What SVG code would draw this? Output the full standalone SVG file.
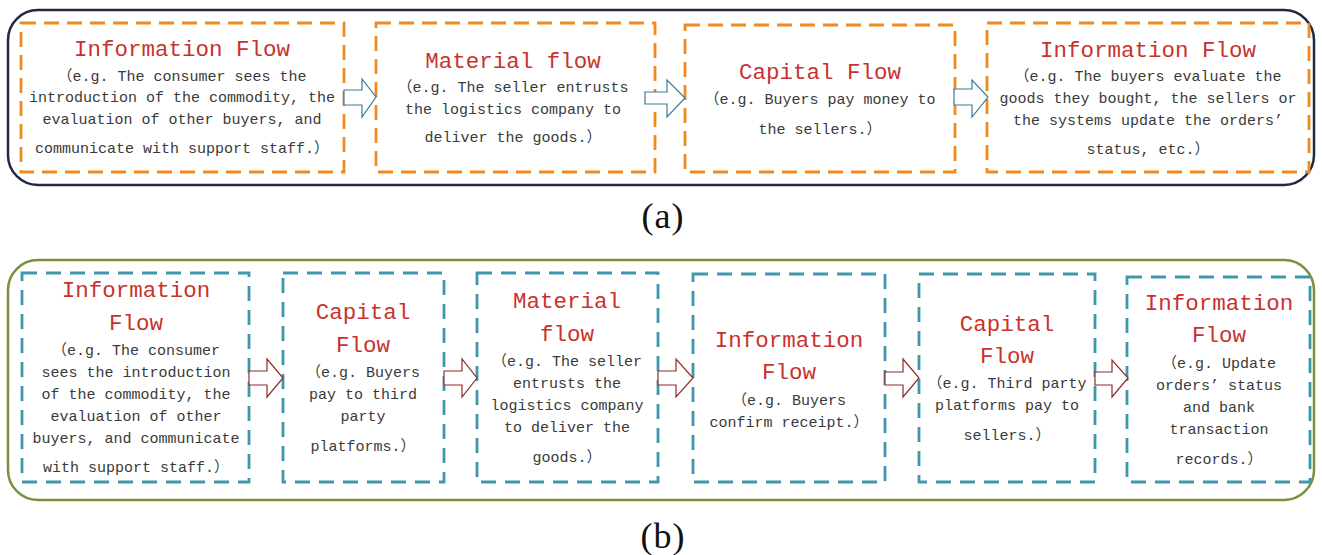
<svg xmlns="http://www.w3.org/2000/svg" width="1322" height="555" viewBox="0 0 1322 555">
  <defs>
    <style>
      .panel-a { fill: none; stroke: #1f2a40; stroke-width: 2.5; }
      .panel-b { fill: none; stroke: #76923c; stroke-width: 2.5; }
      .box-a { fill: none; stroke: #f28a1e; stroke-width: 2.8; stroke-dasharray: 15 8; }
      .box-b { fill: none; stroke: #3f97ab; stroke-width: 2.8; stroke-dasharray: 15 9; }
      .arrow-a { fill: #ffffff; stroke: #3b7d96; stroke-width: 1.2; }
      .arrow-b { fill: #ffffff; stroke: #8e2b26; stroke-width: 1.2; }
      .title { font-family: "Liberation Mono", "Noto Sans CJK SC", monospace; font-size: 22.5px; fill: #c8322d; text-anchor: middle; }
      .body { font-family: "Liberation Mono", "Noto Sans CJK SC", monospace; font-size: 15px; fill: #3a3a3a; text-anchor: middle; }
      .cap { font-family: "Liberation Serif", serif; font-size: 36px; fill: #111111; text-anchor: middle; letter-spacing: 1px; }
    </style>
  </defs>

  <!-- panel (a) frame -->
  <rect class="panel-a" x="8" y="10" width="1306" height="175" rx="30" ry="30"/>

  <!-- panel (a) nodes -->
  <g id="a-info-1">
    <rect class="box-a" x="21" y="23" width="323" height="149"/>
    <text class="title" x="182" y="56">Information Flow</text>
    <text class="body" x="182" y="81">（e.g. The consumer sees the</text>
    <text class="body" x="182" y="102">introduction of the commodity, the</text>
    <text class="body" x="182" y="124">evaluation of other buyers, and</text>
    <text class="body" x="182" y="153">communicate with support staff.）</text>
  </g>
  <g id="a-material">
    <rect class="box-a" x="376" y="23" width="279" height="149"/>
    <text class="title" x="513" y="68">Material flow</text>
    <text class="body" x="513" y="92">（e.g. The seller entrusts</text>
    <text class="body" x="513" y="114">the logistics company to</text>
    <text class="body" x="513" y="142">deliver the goods.）</text>
  </g>
  <g id="a-capital">
    <rect class="box-a" x="685" y="25" width="270" height="147"/>
    <text class="title" x="820" y="79">Capital Flow</text>
    <text class="body" x="820" y="104">（e.g. Buyers pay money to</text>
    <text class="body" x="820" y="134">the sellers.）</text>
  </g>
  <g id="a-info-2">
    <rect class="box-a" x="987" y="23" width="322" height="149"/>
    <text class="title" x="1148" y="57">Information Flow</text>
    <text class="body" x="1148" y="81">（e.g. The buyers evaluate the</text>
    <text class="body" x="1148" y="103">goods they bought, the sellers or</text>
    <text class="body" x="1148" y="125">the systems update the orders’</text>
    <text class="body" x="1148" y="154">status, etc.）</text>
  </g>

  <!-- panel (b) frame -->
  <rect class="panel-b" x="8" y="260" width="1306" height="240" rx="30" ry="30"/>

  <!-- panel (b) nodes -->
  <g id="b-info-1">
    <rect class="box-b" x="22" y="273" width="227" height="209"/>
    <text class="title" x="136" y="297">Information</text>
    <text class="title" x="136" y="330">Flow</text>
    <text class="body" x="136" y="355">（e.g. The consumer</text>
    <text class="body" x="136" y="377">sees the introduction</text>
    <text class="body" x="136" y="399">of the commodity, the</text>
    <text class="body" x="136" y="421">evaluation of other</text>
    <text class="body" x="136" y="443">buyers, and communicate</text>
    <text class="body" x="136" y="472">with support staff.）</text>
  </g>
  <g id="b-capital-1">
    <rect class="box-b" x="283" y="273" width="161" height="209"/>
    <text class="title" x="363" y="319">Capital</text>
    <text class="title" x="363" y="352">Flow</text>
    <text class="body" x="363" y="377">（e.g. Buyers</text>
    <text class="body" x="363" y="399">pay to third</text>
    <text class="body" x="363" y="421">party</text>
    <text class="body" x="363" y="451">platforms.）</text>
  </g>
  <g id="b-material">
    <rect class="box-b" x="477" y="273" width="181" height="209"/>
    <text class="title" x="567" y="308">Material</text>
    <text class="title" x="567" y="341">flow</text>
    <text class="body" x="567" y="366">（e.g. The seller</text>
    <text class="body" x="567" y="388">entrusts the</text>
    <text class="body" x="567" y="410">logistics company</text>
    <text class="body" x="567" y="432">to deliver the</text>
    <text class="body" x="567" y="462">goods.）</text>
  </g>
  <g id="b-info-2">
    <rect class="box-b" x="693" y="274" width="192" height="208"/>
    <text class="title" x="789" y="347">Information</text>
    <text class="title" x="789" y="379">Flow</text>
    <text class="body" x="789" y="405">（e.g. Buyers</text>
    <text class="body" x="789" y="427">confirm receipt.）</text>
  </g>
  <g id="b-capital-2">
    <rect class="box-b" x="919" y="274" width="176" height="208"/>
    <text class="title" x="1007" y="331">Capital</text>
    <text class="title" x="1007" y="363">Flow</text>
    <text class="body" x="1007" y="388">（e.g. Third party</text>
    <text class="body" x="1007" y="410">platforms pay to</text>
    <text class="body" x="1007" y="440">sellers.）</text>
  </g>
  <g id="b-info-3">
    <rect class="box-b" x="1127" y="277" width="183" height="205"/>
    <text class="title" x="1219" y="310">Information</text>
    <text class="title" x="1219" y="342">Flow</text>
    <text class="body" x="1219" y="368">（e.g. Update</text>
    <text class="body" x="1219" y="390">orders’ status</text>
    <text class="body" x="1219" y="412">and bank</text>
    <text class="body" x="1219" y="434">transaction</text>
    <text class="body" x="1219" y="464">records.）</text>
  </g>

  <!-- block-arrow connectors -->
  <g id="connectors">
    <polygon class="arrow-a" points="344,90 362,90 362,79 376,97 362,117 362,105 344,105"/>
    <polygon class="arrow-a" points="645,92 667,92 667,80 685,98 667,117 667,104 645,104"/>
    <polygon class="arrow-a" points="954,89 972,89 972,80 988,97 972,117 972,105 954,105"/>

    <polygon class="arrow-b" points="249,371 267,371 267,359 283,378 267,397 267,385 249,385"/>
    <polygon class="arrow-b" points="444,371 462,371 462,359 477,378 462,397 462,385 444,385"/>
    <polygon class="arrow-b" points="658,371 676,371 676,359 693,378 676,397 676,385 658,385"/>
    <polygon class="arrow-b" points="885,372 903,372 903,359 919,378 903,397 903,385 885,385"/>
    <polygon class="arrow-b" points="1095,372 1112,372 1112,360 1128,378 1112,397 1112,385 1095,385"/>
  </g>

  <!-- sub-figure captions -->
  <text class="cap" x="663" y="228">(a)</text>
  <text class="cap" x="663" y="548">(b)</text>
</svg>
